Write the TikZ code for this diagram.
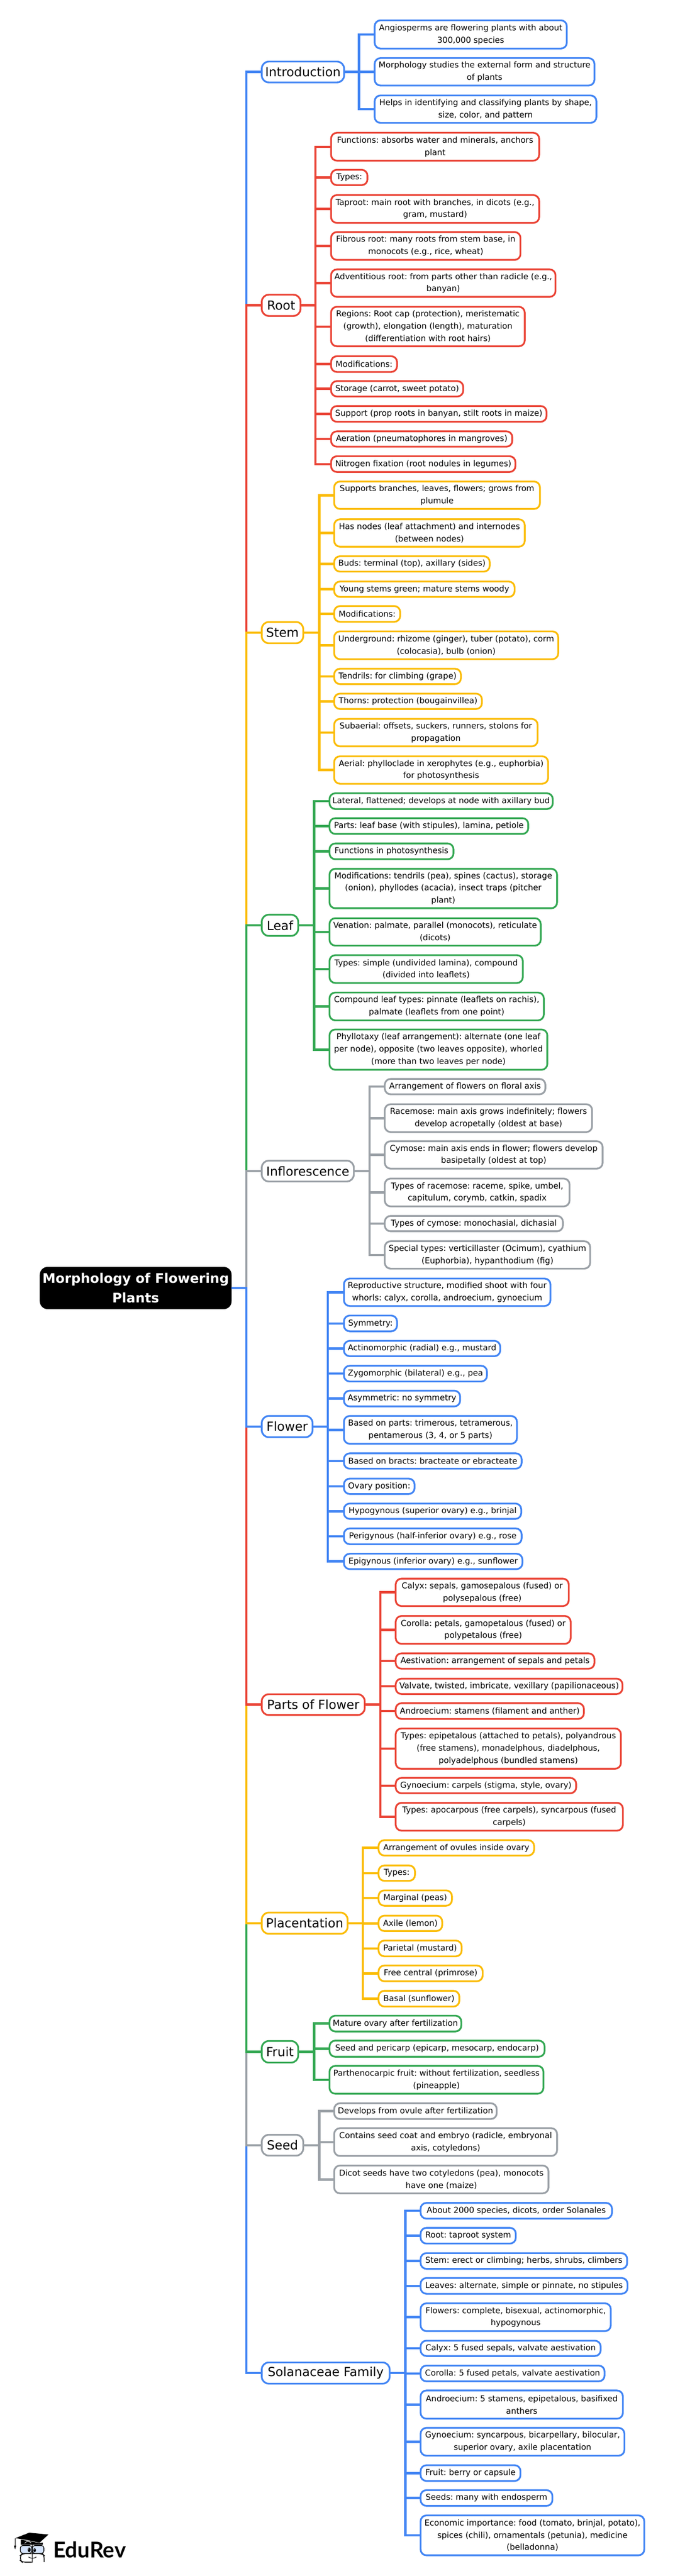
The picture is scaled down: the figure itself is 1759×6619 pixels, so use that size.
\documentclass[tikz,border=0pt]{standalone}
\usepackage{fontspec}
\setmainfont{DejaVu Sans}
\newfontfamily\logofont{Lato}
\frenchspacing
\definecolor{cblue}{HTML}{4285F4}
\definecolor{cred}{HTML}{EA4335}
\definecolor{cyel}{HTML}{FBBC04}
\definecolor{cgrn}{HTML}{34A853}
\definecolor{cgry}{HTML}{9AA0A6}
\tikzset{
  kid/.style={draw=#1,fill=white,line width=2.25pt,rounded corners=7.5pt,inner sep=0pt,outer sep=0pt,align=center,text=black,font=\fontsize{10.5}{15.75}\selectfont},
  head/.style={draw=#1,fill=white,line width=2.25pt,rounded corners=9pt,inner sep=0pt,outer sep=0pt,align=center,text=black,font=\fontsize{16}{25}\selectfont},
  titlebox/.style={fill=black,rounded corners=10pt,inner sep=0pt,outer sep=0pt,align=center,text=white,font=\fontsize{17}{25.5}\selectfont\bfseries},
  conn/.style={draw=#1,line width=3pt,line join=miter}
}
\newcommand{\bx}[7]{%
  \pgfmathsetmacro\bxw{(#4-#3-4.5)*0.5}%
  \pgfmathsetmacro\bxh{(#6-#5-4.5)*0.5}%
  \node[#2,minimum width=\bxw pt,minimum height=\bxh pt] (#1) at ({(#3+#4)/2},{(#5+#6)/2}) {#7};}
\newcommand{\fan}[4]{%
  \coordinate (#1s) at (#2,0);
  \foreach \c in {#4}{\draw[conn=#3] (#1.east) -- (#1.east -| #1s) |- (\c.west);}}
\newcommand{\trunkto}[2]{\draw[conn=#2] (top.east) -- (top.east -| tr) |- (#1.west);}
\begin{document}
\begin{tikzpicture}[x=0.5pt,y=-0.5pt]
\useasboundingbox (0,0) rectangle (1759,6619);
\coordinate (tr) at (633,0);
\bx{top}{titlebox}{100}{597}{3253}{3366}{Morphology of Flowering\\Plants}
% Introduction
\bx{intro}{head=cblue}{670}{886}{156}{214}{Introduction}
\bx{a1}{kid=cblue}{960}{1458}{50}{127}{Angiosperms are flowering plants with about\\300,000 species}
\bx{a2}{kid=cblue}{960}{1529}{147}{222}{Morphology studies the external form and structure\\of plants}
\bx{a3}{kid=cblue}{960}{1534}{243}{318}{Helps in identifying and classifying plants by shape,\\size, color, and pattern}
% Root
\bx{root}{head=cred}{670}{774}{755}{814}{Root}
\bx{r1}{kid=cred}{848}{1387}{339}{415}{Functions: absorbs water and minerals, anchors\\plant}
\bx{r2}{kid=cred}{848}{946}{434}{478}{Types:}
\bx{r3}{kid=cred}{848}{1387}{499}{575}{Taproot: main root with branches, in dicots (e.g.,\\gram, mustard)}
\bx{r4}{kid=cred}{848}{1339}{594}{670}{Fibrous root: many roots from stem base, in\\monocots (e.g., rice, wheat)}
\bx{r5}{kid=cred}{848}{1429}{690}{765}{Adventitious root: from parts other than radicle (e.g.,\\banyan)}
\bx{r6}{kid=cred}{848}{1350}{786}{892}{Regions: Root cap (protection), meristematic\\(growth), elongation (length), maturation\\(differentiation with root hairs)}
\bx{r7}{kid=cred}{848}{1022}{913}{958}{Modifications:}
\bx{r8}{kid=cred}{848}{1192}{977}{1021}{Storage (carrot, sweet potato)}
\bx{r9}{kid=cred}{848}{1406}{1041}{1086}{Support (prop roots in banyan, stilt roots in maize)}
\bx{r10}{kid=cred}{848}{1318}{1106}{1150}{Aeration (pneumatophores in mangroves)}
\bx{r11}{kid=cred}{848}{1326}{1170}{1215}{Nitrogen fixation (root nodules in legumes)}
% Stem
\bx{stem}{head=cyel}{670}{781}{1596}{1655}{Stem}
\bx{s1}{kid=cyel}{856}{1389}{1235}{1310}{Supports branches, leaves, flowers; grows from\\plumule}
\bx{s2}{kid=cyel}{856}{1350}{1332}{1407}{Has nodes (leaf attachment) and internodes\\(between nodes)}
\bx{s3}{kid=cyel}{856}{1260}{1427}{1471}{Buds: terminal (top), axillary (sides)}
\bx{s4}{kid=cyel}{856}{1324}{1492}{1536}{Young stems green; mature stems woody}
\bx{s5}{kid=cyel}{856}{1030}{1555}{1600}{Modifications:}
\bx{s6}{kid=cyel}{856}{1436}{1620}{1696}{Underground: rhizome (ginger), tuber (potato), corm\\(colocasia), bulb (onion)}
\bx{s7}{kid=cyel}{856}{1186}{1716}{1760}{Tendrils: for climbing (grape)}
\bx{s8}{kid=cyel}{856}{1240}{1780}{1824}{Thorns: protection (bougainvillea)}
\bx{s9}{kid=cyel}{856}{1383}{1845}{1920}{Subaerial: offsets, suckers, runners, stolons for\\propagation}
\bx{s10}{kid=cyel}{856}{1410}{1941}{2016}{Aerial: phylloclade in xerophytes (e.g., euphorbia)\\for photosynthesis}
% Leaf
\bx{leafn}{head=cgrn}{670}{768}{2348}{2407}{Leaf}
\bx{l1}{kid=cgrn}{844}{1422}{2036}{2081}{Lateral, flattened; develops at node with axillary bud}
\bx{l2}{kid=cgrn}{844}{1359}{2100}{2145}{Parts: leaf base (with stipules), lamina, petiole}
\bx{l3}{kid=cgrn}{844}{1167}{2165}{2210}{Functions in photosynthesis}
\bx{l4}{kid=cgrn}{844}{1433}{2230}{2336}{Modifications: tendrils (pea), spines (cactus), storage\\(onion), phyllodes (acacia), insect traps (pitcher\\plant)}
\bx{l5}{kid=cgrn}{844}{1391}{2357}{2432}{Venation: palmate, parallel (monocots), reticulate\\(dicots)}
\bx{l6}{kid=cgrn}{844}{1345}{2452}{2528}{Types: simple (undivided lamina), compound\\(divided into leaflets)}
\bx{l7}{kid=cgrn}{844}{1399}{2548}{2624}{Compound leaf types: pinnate (leaflets on rachis),\\palmate (leaflets from one point)}
\bx{l8}{kid=cgrn}{844}{1408}{2643}{2751}{Phyllotaxy (leaf arrangement): alternate (one leaf\\per node), opposite (two leaves opposite), whorled\\(more than two leaves per node)}
% Inflorescence
\bx{infl}{head=cgry}{670}{911}{2980}{3038}{Inflorescence}
\bx{i1}{kid=cgry}{986}{1403}{2770}{2814}{Arrangement of flowers on floral axis}
\bx{i2}{kid=cgry}{986}{1523}{2835}{2911}{Racemose: main axis grows indefinitely; flowers\\develop acropetally (oldest at base)}
\bx{i3}{kid=cgry}{986}{1550}{2930}{3005}{Cymose: main axis ends in flower; flowers develop\\basipetally (oldest at top)}
\bx{i4}{kid=cgry}{986}{1465}{3026}{3102}{Types of racemose: raceme, spike, umbel,\\capitulum, corymb, catkin, spadix}
\bx{i5}{kid=cgry}{986}{1448}{3122}{3166}{Types of cymose: monochasial, dichasial}
\bx{i6}{kid=cgry}{986}{1518}{3187}{3262}{Special types: verticillaster (Ocimum), cyathium\\(Euphorbia), hypanthodium (fig)}
% Flower
\bx{flow}{head=cblue}{670}{805}{3636}{3695}{Flower}
\bx{f1}{kid=cblue}{881}{1416}{3283}{3358}{Reproductive structure, modified shoot with four\\whorls: calyx, corolla, androecium, gynoecium}
\bx{f2}{kid=cblue}{881}{1022}{3378}{3423}{Symmetry:}
\bx{f3}{kid=cblue}{881}{1287}{3443}{3487}{Actinomorphic (radial) e.g., mustard}
\bx{f4}{kid=cblue}{881}{1253}{3507}{3552}{Zygomorphic (bilateral) e.g., pea}
\bx{f5}{kid=cblue}{881}{1184}{3571}{3616}{Asymmetric: no symmetry}
\bx{f6}{kid=cblue}{881}{1330}{3636}{3712}{Based on parts: trimerous, tetramerous,\\pentamerous (3, 4, or 5 parts)}
\bx{f7}{kid=cblue}{881}{1342}{3732}{3776}{Based on bracts: bracteate or ebracteate}
\bx{f8}{kid=cblue}{881}{1067}{3797}{3841}{Ovary position:}
\bx{f9}{kid=cblue}{881}{1341}{3861}{3905}{Hypogynous (superior ovary) e.g., brinjal}
\bx{f10}{kid=cblue}{881}{1342}{3925}{3970}{Perigynous (half-inferior ovary) e.g., rose}
\bx{f11}{kid=cblue}{881}{1344}{3990}{4034}{Epigynous (inferior ovary) e.g., sunflower}
% Parts of Flower
\bx{pof}{head=cred}{670}{939}{4351}{4409}{Parts of Flower}
\bx{p1}{kid=cred}{1014}{1463}{4054}{4129}{Calyx: sepals, gamosepalous (fused) or\\polysepalous (free)}
\bx{p2}{kid=cred}{1014}{1468}{4150}{4226}{Corolla: petals, gamopetalous (fused) or\\polypetalous (free)}
\bx{p3}{kid=cred}{1014}{1529}{4246}{4290}{Aestivation: arrangement of sepals and petals}
\bx{p4}{kid=cred}{1014}{1601}{4311}{4355}{Valvate, twisted, imbricate, vexillary (papilionaceous)}
\bx{p5}{kid=cred}{1014}{1502}{4374}{4419}{Androecium: stamens (filament and anther)}
\bx{p6}{kid=cred}{1014}{1597}{4439}{4547}{Types: epipetalous (attached to petals), polyandrous\\(free stamens), monadelphous, diadelphous,\\polyadelphous (bundled stamens)}
\bx{p7}{kid=cred}{1014}{1482}{4566}{4610}{Gynoecium: carpels (stigma, style, ovary)}
\bx{p8}{kid=cred}{1014}{1602}{4630}{4706}{Types: apocarpous (free carpels), syncarpous (fused\\carpels)}
% Placentation
\bx{plac}{head=cyel}{670}{895}{4912}{4971}{Placentation}
\bx{q1}{kid=cyel}{970}{1374}{4726}{4770}{Arrangement of ovules inside ovary}
\bx{q2}{kid=cyel}{970}{1068}{4791}{4835}{Types:}
\bx{q3}{kid=cyel}{970}{1163}{4855}{4899}{Marginal (peas)}
\bx{q4}{kid=cyel}{970}{1138}{4920}{4964}{Axile (lemon)}
\bx{q5}{kid=cyel}{970}{1188}{4984}{5029}{Parietal (mustard)}
\bx{q6}{kid=cyel}{970}{1242}{5048}{5093}{Free central (primrose)}
\bx{q7}{kid=cyel}{970}{1182}{5113}{5158}{Basal (sunflower)}
% Fruit
\bx{fruit}{head=cgrn}{670}{768}{5242}{5302}{Fruit}
\bx{t1}{kid=cgrn}{844}{1187}{5177}{5222}{Mature ovary after fertilization}
\bx{t2}{kid=cgrn}{844}{1401}{5241}{5287}{Seed and pericarp (epicarp, mesocarp, endocarp)}
\bx{t3}{kid=cgrn}{844}{1398}{5306}{5382}{Parthenocarpic fruit: without fertilization, seedless\\(pineapple)}
% Seed
\bx{seed}{head=cgry}{670}{781}{5483}{5541}{Seed}
\bx{d1}{kid=cgry}{856}{1278}{5402}{5447}{Develops from ovule after fertilization}
\bx{d2}{kid=cgry}{856}{1433}{5466}{5542}{Contains seed coat and embryo (radicle, embryonal\\axis, cotyledons)}
\bx{d3}{kid=cgry}{856}{1411}{5562}{5638}{Dicot seeds have two cotyledons (pea), monocots\\have one (maize)}
% Solanaceae
\bx{sol}{head=cblue}{670}{1003}{6068}{6127}{Solanaceae Family}
\bx{o1}{kid=cblue}{1078}{1574}{5658}{5703}{About 2000 species, dicots, order Solanales}
\bx{o2}{kid=cblue}{1078}{1327}{5722}{5767}{Root: taproot system}
\bx{o3}{kid=cblue}{1078}{1613}{5787}{5832}{Stem: erect or climbing; herbs, shrubs, climbers}
\bx{o4}{kid=cblue}{1078}{1614}{5851}{5896}{Leaves: alternate, simple or pinnate, no stipules}
\bx{o5}{kid=cblue}{1078}{1571}{5916}{5992}{Flowers: complete, bisexual, actinomorphic,\\hypogynous}
\bx{o6}{kid=cblue}{1078}{1545}{6012}{6056}{Calyx: 5 fused sepals, valvate aestivation}
\bx{o7}{kid=cblue}{1078}{1555}{6076}{6121}{Corolla: 5 fused petals, valvate aestivation}
\bx{o8}{kid=cblue}{1078}{1602}{6140}{6217}{Androecium: 5 stamens, epipetalous, basifixed\\anthers}
\bx{o9}{kid=cblue}{1078}{1606}{6236}{6312}{Gynoecium: syncarpous, bicarpellary, bilocular,\\superior ovary, axile placentation}
\bx{o10}{kid=cblue}{1078}{1339}{6332}{6377}{Fruit: berry or capsule}
\bx{o11}{kid=cblue}{1078}{1421}{6396}{6441}{Seeds: many with endosperm}
\bx{o12}{kid=cblue}{1078}{1657}{6461}{6568}{Economic importance: food (tomato, brinjal, potato),\\spices (chili), ornamentals (petunia), medicine\\(belladonna)}
% connectors
\fan{intro}{922}{cblue}{a1,a2,a3}
\fan{root}{810}{cred}{r1,r2,r3,r4,r5,r6,r7,r8,r9,r10,r11}
\fan{stem}{820}{cyel}{s1,s2,s3,s4,s5,s6,s7,s8,s9,s10}
\fan{leafn}{807}{cgrn}{l1,l2,l3,l4,l5,l6,l7,l8}
\fan{infl}{949}{cgry}{i1,i2,i3,i4,i5,i6}
\fan{flow}{842}{cblue}{f1,f2,f3,f4,f5,f6,f7,f8,f9,f10,f11}
\fan{pof}{977}{cred}{p1,p2,p3,p4,p5,p6,p7,p8}
\fan{plac}{932}{cyel}{q1,q2,q3,q4,q5,q6,q7}
\fan{fruit}{807}{cgrn}{t1,t2,t3}
\fan{seed}{820}{cgry}{d1,d2,d3}
\fan{sol}{1041}{cblue}{o1,o2,o3,o4,o5,o6,o7,o8,o9,o10,o11,o12}
% trunk
\trunkto{intro}{cblue}
\trunkto{root}{cred}
\trunkto{stem}{cyel}
\trunkto{leafn}{cgrn}
\trunkto{infl}{cgry}
\trunkto{sol}{cblue}
\trunkto{seed}{cgry}
\trunkto{fruit}{cgrn}
\trunkto{plac}{cyel}
\trunkto{pof}{cred}
\trunkto{flow}{cblue}
% logo
\begin{scope}[shift={(0,6440)},x=0.16667pt,y=-0.16667pt]
  \fill[black] (118,245) -- (225,203) -- (373,217) -- (305,280) -- (200,258) -- cycle;
  \fill[black] (160,256) -- (300,282) -- (330,280) -- (330,296) -- (160,296) -- cycle;
  \draw[white,line width=0.6pt] (190,285) .. controls (205,265) and (225,268) .. (240,282);
  \draw[black,line width=0.6pt] (116,245) -- (116,305);
  \fill[black] (107,303) -- (125,303) -- (116,331) -- cycle;
  \draw[black,line width=0.9pt,fill=cblue!22,rounded corners=3pt] (157,302) rectangle (245,362);
  \draw[black,line width=0.9pt,fill=cblue!22,rounded corners=3pt] (250,302) rectangle (338,362);
  \fill[black] (225,335) ellipse [x radius=12,y radius=18];
  \fill[black] (267,338) ellipse [x radius=10,y radius=15];
  \fill[white] (221,328) circle (3);
  \fill[white] (263,332) circle (3);
  \draw[black,line width=0.9pt,rounded corners=4pt] (245,365) -- (170,365) -- (157,378) -- (157,418) -- (170,430) -- (245,430);
  \draw[black,line width=0.9pt,rounded corners=4pt] (250,365) -- (328,365) -- (340,378) -- (340,430);
  \draw[black,line width=0.9pt] (247,296) -- (247,432);
  \draw[black,line width=0.7pt] (220,390) .. controls (235,403) and (265,403) .. (280,390);
\end{scope}
\node[anchor=base west,inner sep=0pt,font=\logofont\bfseries\fontsize{28}{28}\selectfont] (logo) at (136,6572) {EduRev};
\end{tikzpicture}
\end{document}
